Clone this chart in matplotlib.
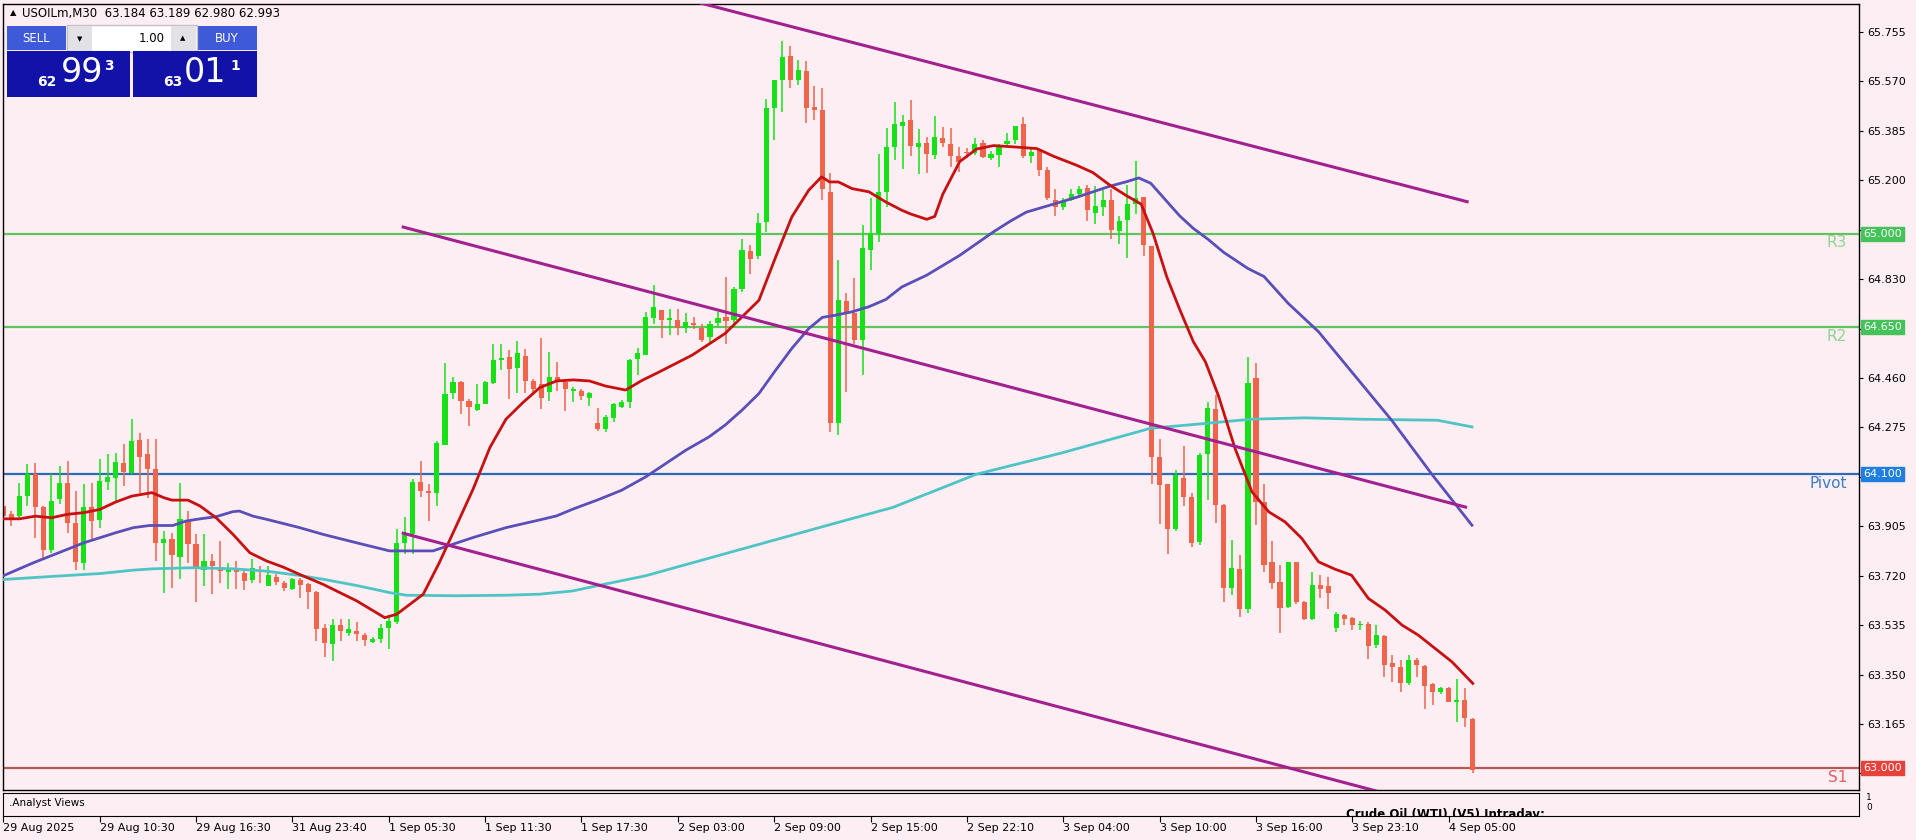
import numpy as np
import matplotlib
matplotlib.use("Agg")
import matplotlib.pyplot as plt
from matplotlib.patches import Rectangle
from matplotlib.transforms import blended_transform_factory

W, H = 1916, 840
BG = "#fdeef3"

# M30 candles, USOILm
open_ = [
    63.981, 63.950, 63.943, 64.018, 64.100, 63.978, 63.818, 64.008, 64.066, 63.918,
    63.768, 63.978, 63.928, 64.071, 64.087, 64.143, 64.106, 64.228, 64.175, 64.121,
    63.843, 63.858, 63.791, 63.925, 63.837, 63.743, 63.775, 63.753, 63.733, 63.743,
    63.731, 63.703, 63.743, 63.683, 63.716, 63.691, 63.671, 63.704, 63.688, 63.659,
    63.526, 63.464, 63.535, 63.507, 63.513, 63.497, 63.472, 63.482, 63.526, 63.545,
    63.844, 63.875, 64.069, 64.036, 64.031, 64.208, 64.403, 64.445, 64.374, 64.341,
    64.362, 64.443, 64.528, 64.539, 64.499, 64.543, 64.449, 64.437, 64.408, 64.462,
    64.445, 64.410, 64.412, 64.387, 64.290, 64.271, 64.312, 64.353, 64.371, 64.530,
    64.546, 64.683, 64.714, 64.677, 64.677, 64.646, 64.667, 64.649, 64.614, 64.667,
    64.689, 64.677, 64.795, 64.936, 64.916, 65.045, 65.469, 65.575, 65.665, 65.577,
    65.610, 65.475, 65.463, 65.157, 64.290, 64.749, 64.702, 64.602, 64.939, 65.001,
    65.157, 65.325, 65.404, 65.425, 65.326, 65.340, 65.296, 65.360, 65.337, 65.290,
    65.307, 65.303, 65.340, 65.283, 65.296, 65.337, 65.350, 65.411, 65.290, 65.313,
    65.240, 65.128, 65.101, 65.128, 65.148, 65.173, 65.078, 65.101, 65.128, 65.011,
    65.051, 65.111, 65.137, 64.953, 64.164, 64.063, 63.895, 64.086, 64.016, 63.845,
    64.174, 64.344, 63.984, 63.675, 63.745, 63.595, 64.461, 63.997, 63.772, 63.697,
    63.604, 63.770, 63.623, 63.558, 63.687, 63.682, 63.525, 63.573, 63.563, 63.537,
    63.541, 63.460, 63.495, 63.392, 63.379, 63.317, 63.404, 63.383, 63.313, 63.283,
    63.301, 63.248, 63.255, 63.184,
]
high = [
    63.987, 63.962, 64.068, 64.137, 64.143, 63.980, 64.100, 64.131, 64.150, 64.037,
    64.062, 64.068, 64.156, 64.175, 64.181, 64.212, 64.306, 64.256, 64.231, 64.231,
    63.887, 63.881, 64.068, 63.962, 63.875, 63.878, 63.800, 63.850, 63.768, 63.775,
    63.743, 63.781, 63.756, 63.756, 63.725, 63.700, 63.712, 63.713, 63.694, 63.663,
    63.538, 63.557, 63.557, 63.557, 63.545, 63.507, 63.489, 63.538, 63.570, 63.894,
    63.938, 64.081, 64.150, 64.062, 64.225, 64.518, 64.462, 64.449, 64.381, 64.437,
    64.449, 64.586, 64.586, 64.565, 64.599, 64.570, 64.455, 64.608, 64.558, 64.520,
    64.449, 64.428, 64.418, 64.408, 64.346, 64.321, 64.367, 64.377, 64.533, 64.571,
    64.708, 64.808, 64.714, 64.717, 64.720, 64.702, 64.689, 64.664, 64.674, 64.708,
    64.839, 64.801, 64.982, 64.958, 65.078, 65.506, 65.577, 65.722, 65.702, 65.650,
    65.647, 65.552, 65.544, 65.226, 64.901, 64.777, 64.833, 65.032, 65.132, 65.300,
    65.394, 65.494, 65.445, 65.499, 65.391, 65.364, 65.442, 65.398, 65.394, 65.323,
    65.321, 65.357, 65.350, 65.310, 65.337, 65.377, 65.404, 65.438, 65.317, 65.317,
    65.249, 65.168, 65.135, 65.168, 65.178, 65.182, 65.178, 65.162, 65.168, 65.065,
    65.182, 65.272, 65.137, 64.953, 64.232, 64.063, 64.117, 64.205, 64.030, 64.178,
    64.369, 64.396, 63.990, 63.853, 63.797, 64.539, 64.518, 64.062, 63.850, 63.760,
    63.772, 63.772, 63.625, 63.735, 63.722, 63.716, 63.585, 63.575, 63.566, 63.550,
    63.548, 63.535, 63.498, 63.425, 63.404, 63.423, 63.413, 63.385, 63.317, 63.304,
    63.304, 63.335, 63.301, 63.189,
]
low = [
    63.937, 63.906, 63.937, 63.981, 63.862, 63.787, 63.806, 63.987, 63.881, 63.743,
    63.743, 63.850, 63.900, 64.041, 64.000, 64.056, 64.100, 64.031, 64.012, 63.775,
    63.656, 63.675, 63.706, 63.768, 63.621, 63.683, 63.650, 63.691, 63.671, 63.671,
    63.668, 63.693, 63.693, 63.681, 63.687, 63.662, 63.668, 63.638, 63.595, 63.476,
    63.414, 63.401, 63.476, 63.495, 63.476, 63.457, 63.467, 63.470, 63.445, 63.538,
    63.800, 63.800, 64.013, 63.925, 63.981, 64.208, 64.381, 64.324, 64.281, 64.337,
    64.362, 64.437, 64.490, 64.381, 64.405, 64.405, 64.399, 64.343, 64.374, 64.412,
    64.337, 64.370, 64.378, 64.356, 64.262, 64.259, 64.296, 64.346, 64.346, 64.471,
    64.546, 64.664, 64.608, 64.620, 64.620, 64.627, 64.642, 64.596, 64.589, 64.652,
    64.589, 64.664, 64.783, 64.851, 64.904, 65.007, 65.350, 65.456, 65.547, 65.556,
    65.415, 65.425, 65.126, 64.259, 64.246, 64.408, 64.589, 64.471, 64.864, 64.970,
    65.101, 65.275, 65.243, 65.290, 65.222, 65.229, 65.280, 65.326, 65.249, 65.232,
    65.283, 65.296, 65.283, 65.276, 65.249, 65.334, 65.337, 65.283, 65.263, 65.216,
    65.128, 65.067, 65.088, 65.121, 65.135, 65.047, 65.038, 65.067, 64.980, 64.960,
    64.908, 65.074, 64.916, 64.063, 63.915, 63.801, 63.888, 63.982, 63.828, 63.835,
    64.003, 63.916, 63.623, 63.648, 63.566, 63.579, 63.909, 63.735, 63.672, 63.504,
    63.600, 63.616, 63.554, 63.554, 63.635, 63.595, 63.508, 63.535, 63.516, 63.516,
    63.410, 63.448, 63.342, 63.323, 63.286, 63.311, 63.342, 63.223, 63.236, 63.276,
    63.246, 63.173, 63.155, 62.980,
]
close = [
    63.943, 63.937, 64.018, 64.100, 63.978, 63.818, 64.000, 64.068, 63.918, 63.772,
    63.978, 63.925, 64.075, 64.091, 64.146, 64.108, 64.225, 64.165, 64.118, 63.843,
    63.856, 63.796, 63.931, 63.837, 63.750, 63.775, 63.758, 63.737, 63.743, 63.733,
    63.700, 63.750, 63.735, 63.721, 63.696, 63.675, 63.708, 63.684, 63.659, 63.520,
    63.470, 63.535, 63.513, 63.522, 63.501, 63.480, 63.485, 63.526, 63.551, 63.844,
    63.872, 64.069, 64.037, 64.031, 64.218, 64.402, 64.445, 64.374, 64.353, 64.362,
    64.445, 64.528, 64.536, 64.493, 64.553, 64.449, 64.418, 64.387, 64.465, 64.445,
    64.420, 64.418, 64.391, 64.405, 64.271, 64.315, 64.362, 64.371, 64.527, 64.554,
    64.689, 64.724, 64.677, 64.683, 64.646, 64.670, 64.657, 64.602, 64.664, 64.683,
    64.674, 64.795, 64.941, 64.907, 65.041, 65.469, 65.575, 65.662, 65.575, 65.612,
    65.469, 65.463, 65.169, 64.290, 64.752, 64.702, 64.602, 64.945, 65.001, 65.157,
    65.325, 65.409, 65.418, 65.330, 65.340, 65.299, 65.364, 65.340, 65.290, 65.270,
    65.302, 65.337, 65.286, 65.299, 65.330, 65.346, 65.402, 65.290, 65.307, 65.240,
    65.135, 65.101, 65.121, 65.148, 65.168, 65.088, 65.105, 65.128, 65.013, 65.047,
    65.111, 65.135, 64.957, 64.164, 64.059, 63.895, 64.097, 64.016, 63.841, 64.171,
    64.349, 63.984, 63.675, 63.750, 63.595, 64.440, 63.997, 63.762, 63.691, 63.600,
    63.772, 63.620, 63.558, 63.687, 63.672, 63.654, 63.575, 63.558, 63.535, 63.541,
    63.458, 63.498, 63.385, 63.379, 63.317, 63.404, 63.385, 63.308, 63.286, 63.298,
    63.248, 63.253, 63.186, 62.993,
]

# moving averages (bar index, price)
ma_fast_x = [0, 2, 4, 6, 8, 10, 12, 14, 16, 18.5, 20, 21, 23, 24.5, 26.5, 28.6, 30.7, 32.8, 34.8, 36.9,
             39.8, 44, 47.5, 49, 52.3, 54.3, 56.4, 58.5, 60.6, 62.6, 64.7, 66.8, 68.9, 71, 73, 75,
             77.5, 79.6, 81.7, 85.8, 89.9, 92, 94.1, 96.2, 98.2, 100.3, 101.9, 102.9, 104, 105.7,
             107.8, 109.9, 111.9, 113, 115, 116, 117, 119.1, 121.2, 123.3, 125.4, 128.7, 130.8,
             133.7, 135.7, 137.8, 139.9, 141.7, 143.2, 144.9, 146.5, 148.2, 149.7, 151.3, 153.4,
             155.5, 157.6, 159.6, 161.7, 163.8, 165.8, 167.9, 170, 172.1, 174.2, 176.2, 178.3,
             180.4, 183]
ma_fast_y = [63.933, 63.933, 63.943, 63.937, 63.950, 63.956, 63.968, 63.996, 64.018, 64.031, 64.012,
             64.003, 64.003, 63.981, 63.937, 63.875, 63.806, 63.775, 63.753, 63.725, 63.688, 63.626,
             63.563, 63.576, 63.651, 63.769, 63.906, 64.044, 64.200, 64.306, 64.368, 64.424, 64.449,
             64.453, 64.449, 64.430, 64.415, 64.452, 64.483, 64.546, 64.627, 64.689, 64.751, 64.914,
             65.063, 65.163, 65.213, 65.194, 65.194, 65.169, 65.157, 65.119, 65.088, 65.074, 65.054,
             65.065, 65.148, 65.270, 65.317, 65.330, 65.326, 65.319, 65.290, 65.256, 65.229, 65.182,
             65.142, 65.111, 65.000, 64.838, 64.717, 64.596, 64.521, 64.396, 64.196, 64.034, 63.959,
             63.922, 63.860, 63.772, 63.745, 63.722, 63.635, 63.591, 63.535, 63.498, 63.448, 63.398,
             63.317]

ma_mid_x = [0, 3.7, 7.9, 10, 12, 14, 16.2, 18.2, 21.1, 22.8, 24.5, 26.5, 28.6, 29.4, 31.1, 32.8,
            34.8, 36.9, 39.8, 43.9, 48.1, 53.5, 55.6, 58.5, 62.6, 66.8, 68.9, 70.9, 74.2, 77, 80,
            83, 85, 87.9, 89.9, 92, 94.1, 96.2, 98.2, 100.3, 102, 103.6, 105.7, 107.8, 109.9,
            111.9, 115, 119.1, 123.3, 125.4, 127.4, 130.8, 133.7, 137.8, 139.9, 141.4, 142.9,
            144.9, 146.5, 148.2, 150, 152, 155, 157, 160, 163.8, 172.9, 177.9, 182.9]
ma_mid_y = [63.720, 63.768, 63.818, 63.843, 63.862, 63.881, 63.900, 63.908, 63.908, 63.925, 63.933,
            63.941, 63.960, 63.962, 63.943, 63.931, 63.916, 63.900, 63.875, 63.844, 63.813, 63.813,
            63.834, 63.863, 63.900, 63.929, 63.944, 63.969, 64.006, 64.040, 64.090, 64.150, 64.190,
            64.240, 64.284, 64.340, 64.402, 64.490, 64.571, 64.645, 64.687, 64.695, 64.708, 64.727,
            64.754, 64.801, 64.845, 64.919, 65.007, 65.047, 65.081, 65.111, 65.137, 65.178, 65.195,
            65.209, 65.189, 65.121, 65.067, 65.020, 64.980, 64.930, 64.870, 64.840, 64.740, 64.633,
            64.302, 64.100, 63.909]

ma_slow_x = [0, 8, 12, 16.2, 18.7, 23.6, 28.6, 32.8, 36.9, 39.8, 43.9, 48.1, 50.2, 56.4, 62.6,
             66.8, 70.9, 74.2, 80, 86, 92, 98, 104, 110.8, 121.2, 131.6, 142.9, 148.2, 155.5,
             162.1, 168.7, 178.6, 182.9]
ma_slow_y = [63.706, 63.721, 63.728, 63.741, 63.746, 63.750, 63.746, 63.737, 63.721, 63.707, 63.684,
             63.657, 63.647, 63.645, 63.647, 63.651, 63.663, 63.684, 63.720, 63.770, 63.820, 63.870,
             63.920, 63.976, 64.100, 64.178, 64.272, 64.286, 64.306, 64.311, 64.306, 64.302, 64.277]

# channel lines (start/end bar index and price)
trend_x = [[86, 182.3], [49.8, 182.1], [49.8, 171.5]]
trend_y = [[65.87, 65.12], [65.025, 63.977], [63.879, 62.91]]

# pivot levels
level_names = ["R3", "R2", "Pivot", "S1"]
level_values = [65.000, 64.650, 64.100, 63.000]
level_colors = ["#5cc65c", "#5cc65c", "#2b6cb8", "#b55a55"]
level_text_colors = ["#8fd48f", "#8fd48f", "#3a7cc8", "#e06060"]
level_box_colors = ["#45c35a", "#45c35a", "#1e7fe0", "#e8413a"]

time_labels = ["29 Aug 2025", "29 Aug 10:30", "29 Aug 16:30", "31 Aug 23:40", "1 Sep 05:30",
               "1 Sep 11:30", "1 Sep 17:30", "2 Sep 03:00", "2 Sep 09:00", "2 Sep 15:00",
               "2 Sep 22:10", "3 Sep 04:00", "3 Sep 10:00", "3 Sep 16:00", "3 Sep 23:10",
               "4 Sep 05:00"]
time_label_bars = list(range(0, 181, 12))

price_ticks = [62.980 + 0.185 * k for k in range(16)]

plt.rcParams['font.family'] = ['DejaVu Sans']

fig = plt.figure(figsize=(W / 100, H / 100), dpi=100, facecolor=BG)
ax = fig.add_axes([3 / W, 50 / H, 1856 / W, 786 / H], facecolor=BG)

o = np.array(open_)
c = np.array(close)
hi = np.array(high)
lo = np.array(low)
idx = np.arange(len(c))
up = c >= o
cols = np.where(up, "#16e016", "#f0644c")

for val, col in zip(level_values, level_colors):
    ax.axhline(val, color=col, lw=1.6, zorder=1)

ax.vlines(idx, lo, hi, colors=cols, lw=1.1, zorder=2)
body = np.maximum(np.abs(c - o), 0.004)
ax.bar(idx, body, bottom=np.minimum(o, c), width=0.64, color=cols, lw=0, zorder=2)

ax.plot(ma_slow_x, ma_slow_y, color="#4fc4c4", lw=2, zorder=3)
ax.plot(ma_mid_x, ma_mid_y, color="#5a4fb8", lw=2, zorder=3)
ax.plot(ma_fast_x, ma_fast_y, color="#c81010", lw=2, zorder=3)

for tx, ty in zip(trend_x, trend_y):
    ax.plot(tx, ty, color="#a2208f", lw=2.2, zorder=3)

ax.set_xlim(-0.04, 231.1)
ax.set_ylim(62.918, 65.860)

# tick labels that sit under a level box are left blank
ax.yaxis.tick_right()
ax.set_yticks(price_ticks)
ax.set_yticklabels([
    "" if min(abs(v - lv) for lv in level_values) < 0.03 else f"{v:.3f}"
    for v in price_ticks
])
ax.tick_params(axis='y', direction='out', length=3, pad=3, labelsize=8, colors='black')
ax.set_xticks([])
for s in ax.spines.values():
    s.set_color('black')
    s.set_linewidth(1)

trans = blended_transform_factory(ax.transAxes, ax.transData)
for name, val, tcol, bcol in zip(level_names, level_values, level_text_colors, level_box_colors):
    ax.text(0.9935, val - 0.006, name, transform=trans, ha='right', va='top',
            fontsize=11, color=tcol, zorder=4)
    ax.text(1.0022, val, f"{val:.3f}", transform=trans, ha='left', va='center',
            fontsize=8, color='white', clip_on=False, zorder=10,
            bbox=dict(boxstyle='square,pad=0.18', fc=bcol, ec=bcol))

# indicator sub-window
sub = fig.add_axes([3 / W, 24 / H, 1856 / W, 23 / H], facecolor=BG)
sub.set_xlim(-0.04, 231.1)
sub.set_ylim(0, 1)
sub.set_yticks([])
sub.set_xticks(time_label_bars)
sub.set_xticklabels(time_labels)
sub.tick_params(axis='x', direction='out', length=4, pad=1, labelsize=8)
for lab in sub.get_xticklabels():
    lab.set_ha('left')
for s in sub.spines.values():
    s.set_color('black')
sub.text(0.003, 0.55, ".Analyst Views", transform=sub.transAxes, fontsize=7.5, va='center')
sub.text(0.7235, 0.05, "Crude Oil (WTI) (V5) Intraday:", transform=sub.transAxes,
         fontsize=8.5, fontweight='bold', va='center', clip_on=True)
fig.text(1866 / W, 1 - 798 / H, "1", fontsize=6.5, va='center')
fig.text(1866 / W, 1 - 808 / H, "0", fontsize=6.5, va='center')

# one-click trading panel and symbol header (pixel overlay)
ov = fig.add_axes([0, 0, 1, 1])
ov.set_xlim(0, W)
ov.set_ylim(H, 0)
ov.axis('off')
ov.patch.set_visible(False)

ov.text(10, 13, "▲", fontsize=6, va='center', ha='left')
ov.text(22, 13, "USOILm,M30  63.184 63.189 62.980 62.993", fontsize=8.5, va='center', ha='left')

hdr = "#3f5ad8"
dark = "#1212a8"
ov.add_patch(Rectangle((7, 26), 59, 24, fc=hdr, ec='none'))
ov.add_patch(Rectangle((197, 26), 60, 24, fc=hdr, ec='none'))
ov.add_patch(Rectangle((67, 25), 130, 27, fc='white', ec='#c0c0c8', lw=1))
ov.add_patch(Rectangle((68, 26), 24, 25, fc='#e2e2e6', ec='none'))
ov.add_patch(Rectangle((171, 26), 25, 25, fc='#e2e2e6', ec='none'))
ov.add_patch(Rectangle((7, 51), 123, 46, fc=dark, ec='none'))
ov.add_patch(Rectangle((133, 51), 124, 46, fc=dark, ec='none'))
ov.text(36, 38, "SELL", color='white', fontsize=8.5, ha='center', va='center')
ov.text(227, 38, "BUY", color='white', fontsize=8.5, ha='center', va='center')
ov.text(80, 39, "▼", fontsize=5, ha='center', va='center')
ov.text(183, 38, "▲", fontsize=5, ha='center', va='center')
ov.text(165, 38, "1.00", fontsize=8.5, ha='right', va='center')

ov.text(47, 82, "62", color='white', fontsize=10, fontweight='bold', ha='center', va='center')
ov.text(82, 73, "99", color='white', fontsize=24, ha='center', va='center')
ov.text(109, 66, "3", color='white', fontsize=10, fontweight='bold', ha='center', va='center')
ov.text(173, 82, "63", color='white', fontsize=10, fontweight='bold', ha='center', va='center')
ov.text(205, 73, "01", color='white', fontsize=24, ha='center', va='center')
ov.text(235, 66, "1", color='white', fontsize=10, fontweight='bold', ha='center', va='center')

fig.savefig("out.png", dpi=100, facecolor=BG)
